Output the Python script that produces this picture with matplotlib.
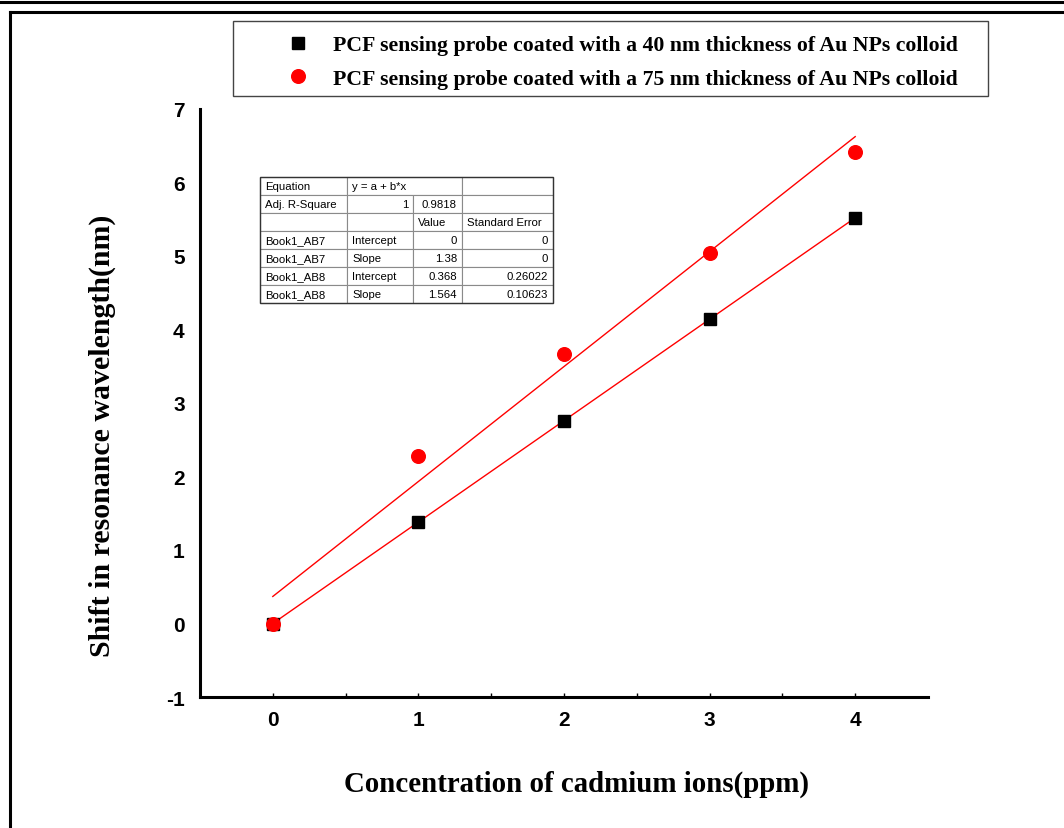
import numpy as np
import matplotlib
matplotlib.use("Agg")
import matplotlib.pyplot as plt
from matplotlib.lines import Line2D
from matplotlib.patches import Rectangle

plt.rcParams["axes.unicode_minus"] = False

# ---- data ----
conc = [0, 1, 2, 3, 4]
shift_40nm = [0.0, 1.38, 2.76, 4.14, 5.52]
shift_75nm = [0.0, 2.28, 3.66, 5.04, 6.42]

label_40 = "PCF sensing probe coated with a 40 nm thickness of Au NPs colloid"
label_75 = "PCF sensing probe coated with a 75 nm thickness of Au NPs colloid"

# linear fit results shown in the table (intercept, slope)
fit_40 = (0.0, 1.38)
fit_75 = (0.368, 1.564)

table_rows = [
    ["Equation", "y = a + b*x", "", ""],
    ["Adj. R-Square", "1", "0.9818", ""],
    ["", "", "Value", "Standard Error"],
    ["Book1_AB7", "Intercept", "0", "0"],
    ["Book1_AB7", "Slope", "1.38", "0"],
    ["Book1_AB8", "Intercept", "0.368", "0.26022"],
    ["Book1_AB8", "Slope", "1.564", "0.10623"],
]
col_px = [87, 66, 49, 91]

serif = ["Liberation Serif", "DejaVu Serif"]
sans = ["Liberation Sans", "DejaVu Sans"]

fig = plt.figure(figsize=(10.64, 8.29), dpi=100)
ax = fig.add_axes([200 / 1064, 1 - 698 / 829, 728 / 1064, 588 / 829])

# fit lines
xf = np.array([conc[0], conc[-1]])
ax.plot(xf, fit_40[0] + fit_40[1] * xf, color="red", lw=1.0, zorder=2)
ax.plot(xf, fit_75[0] + fit_75[1] * xf, color="red", lw=1.0, zorder=2)

ax.plot(conc, shift_40nm, ls="none", marker="s", ms=8.2, color="black",
        label=label_40, zorder=3)
ax.plot(conc, shift_75nm, ls="none", marker="o", ms=9.8, color="red",
        label=label_75, zorder=4)

ax.set_xlim(-0.5, 4.5)
ax.set_ylim(-1, 7)
ax.set_xticks(conc)
ax.set_xticks([0.5, 1.5, 2.5, 3.5], minor=True)
ax.set_yticks(range(-1, 8))

for s in ["top", "right"]:
    ax.spines[s].set_visible(False)
for s in ["left", "bottom"]:
    ax.spines[s].set_linewidth(2.2)

ax.tick_params(axis="x", which="both", direction="in", length=3, width=1, pad=9)
ax.tick_params(axis="y", length=0, pad=11)
for lab in ax.get_xticklabels() + ax.get_yticklabels():
    lab.set_fontfamily(sans)
    lab.set_fontweight("bold")
    lab.set_fontsize(15)

ax.set_xlabel("Concentration of cadmium ions(ppm)", family=serif,
              fontweight="bold", fontsize=20.8)
ax.set_ylabel("Shift in resonance wavelength(nm)", family=serif,
              fontweight="bold", fontsize=21.5)
ax.xaxis.set_label_coords((576 - 200) / 728, (698 - 771) / 588)
ax.yaxis.set_label_coords((116 - 200) / 728, (698 - 436) / 588)

# statistics table
tbl = ax.table(cellText=table_rows, colWidths=col_px,
               bbox=[60 / 728, (698 - 304) / 588, 293 / 728, 126 / 588],
               cellLoc="left")
tbl.auto_set_font_size(False)
tbl.set_fontsize(8.2)
for (r, c), cell in tbl.get_celld().items():
    cell.set_edgecolor("#8a8a8a")
    cell.set_linewidth(0.8)
    cell.PAD = 5 / col_px[c]
    cell.get_text().set_fontfamily(sans)
    txt = table_rows[r][c]
    if txt.replace(".", "").isdigit():
        cell.get_text().set_horizontalalignment("right")
    if (r, c) == (0, 1):
        cell.visible_edges = "BTL"
    if (r, c) == (0, 2):
        cell.visible_edges = "BTR"
ax.add_patch(Rectangle((60 / 728, (698 - 304) / 588), 293 / 728, 126 / 588,
                       transform=ax.transAxes, fill=False, ec="#333333",
                       lw=1.0, zorder=10))

# legend with its own box
fig.patches.append(Rectangle((233 / 1064, 1 - 97 / 829), 755 / 1064, 75 / 829,
                             transform=fig.transFigure, fill=False,
                             ec="#444444", lw=1.0))
fig.legend(loc="upper left", bbox_to_anchor=(287 / 1064, 1 - 36 / 829),
           frameon=False, borderpad=0, borderaxespad=0, handlelength=1.0,
           handletextpad=1.1, labelspacing=0.6,
           prop={"family": serif, "weight": "bold", "size": 15.7})

# page frame lines
fig.add_artist(Line2D([0, 1], [1 - 2.5 / 829] * 2, color="black", lw=2.2,
                      transform=fig.transFigure))
fig.add_artist(Line2D([10 / 1064, 1], [1 - 12.5 / 829] * 2, color="black", lw=2.2,
                      transform=fig.transFigure))
fig.add_artist(Line2D([10 / 1064] * 2, [0, 1 - 12.5 / 829], color="black", lw=2.2,
                      transform=fig.transFigure))

fig.savefig("out.png", dpi=100)
